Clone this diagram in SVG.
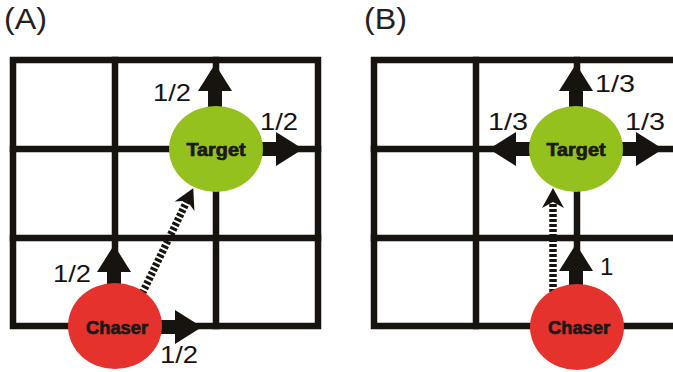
<svg xmlns="http://www.w3.org/2000/svg" width="673" height="372" viewBox="0 0 673 372">
  <style>
    .grid { fill: none; stroke: #17130e; stroke-width: 6.5; stroke-linecap: square; }
    .move { stroke: #17130e; stroke-width: 14; marker-end: url(#head); }
    .chase { fill: none; stroke: #17130e; stroke-width: 7.5; stroke-dasharray: 3 2; marker-end: url(#stealth); }
    .prob { font-family: "Liberation Sans", Arial, sans-serif; font-size: 24px; fill: #17130e; }
    .panel { font-family: "Liberation Sans", Arial, sans-serif; font-size: 29px; fill: #231f20; }
    .name { font-family: "Liberation Sans", Arial, sans-serif; font-size: 18px; font-weight: bold; fill: #1c1a17; stroke: #1c1a17; stroke-width: 0.7; text-anchor: middle; }
    .target { fill: #95c11f; }
    .chaser { fill: #e5322d; }
  </style>
  <defs>
    <marker id="head" markerUnits="userSpaceOnUse" markerWidth="28" markerHeight="34" refX="0" refY="17" orient="auto" overflow="visible">
      <path d="M0,0 L27,17 L0,34 Z" fill="#17130e"/>
    </marker>
    <marker id="stealth" markerUnits="userSpaceOnUse" markerWidth="21" markerHeight="24" refX="8" refY="11" orient="auto" overflow="visible">
      <path d="M0,0 L20,11 L0,22 L6,11 Z" fill="#17130e"/>
    </marker>
  </defs>

  <rect width="673" height="372" fill="#ffffff"/>

  <!-- panel titles -->
  <text class="panel" x="4" y="29" textLength="43" lengthAdjust="spacingAndGlyphs">(A)</text>
  <text class="panel" x="364" y="29" textLength="43" lengthAdjust="spacingAndGlyphs">(B)</text>

  <!-- lattice A -->
  <g id="grid-a" class="grid">
    <rect x="13" y="60" width="305" height="266"/>
    <path d="M115,60 V326 M216,60 V326 M13,149 H318 M13,238 H318"/>
  </g>

  <!-- lattice B (runs past the right edge) -->
  <g id="grid-b" class="grid">
    <path d="M690,60 H374 V326 H690"/>
    <path d="M476,60 V326 M577,60 V326 M374,149 H690 M374,238 H690"/>
  </g>

  <g id="connectors">
    <!-- A: target moves -->
    <line class="move" x1="215" y1="112" x2="215" y2="91"/>
    <line class="move" x1="258" y1="149" x2="276" y2="149"/>
    <!-- A: chaser moves -->
    <line class="move" x1="114" y1="290" x2="114" y2="272"/>
    <line class="move" x1="158" y1="327" x2="175" y2="327"/>
    <!-- A: pursuit direction -->
    <line class="chase" x1="138" y1="302" x2="188" y2="199"/>

    <!-- B: target moves -->
    <line class="move" x1="576" y1="112" x2="576" y2="91"/>
    <line class="move" x1="535" y1="149" x2="516" y2="149"/>
    <line class="move" x1="618" y1="149" x2="636" y2="149"/>
    <!-- B: chaser move -->
    <line class="move" x1="576" y1="292" x2="576" y2="271"/>
    <!-- B: pursuit direction -->
    <line class="chase" x1="553" y1="292" x2="553" y2="200"/>

    <!-- transition probabilities -->
    <text class="prob" x="153" y="101" textLength="38" lengthAdjust="spacingAndGlyphs">1/2</text>
    <text class="prob" x="260" y="130" textLength="38" lengthAdjust="spacingAndGlyphs">1/2</text>
    <text class="prob" x="53" y="282" textLength="38" lengthAdjust="spacingAndGlyphs">1/2</text>
    <text class="prob" x="160" y="363" textLength="38" lengthAdjust="spacingAndGlyphs">1/2</text>
    <text class="prob" x="595" y="92" textLength="40" lengthAdjust="spacingAndGlyphs">1/3</text>
    <text class="prob" x="488" y="130" textLength="40" lengthAdjust="spacingAndGlyphs">1/3</text>
    <text class="prob" x="625" y="130" textLength="40" lengthAdjust="spacingAndGlyphs">1/3</text>
    <text class="prob" x="600" y="275">1</text>
  </g>

  <g id="target-a">
    <ellipse class="target" cx="216" cy="149" rx="47" ry="43"/>
    <text class="name" x="216" y="156" textLength="59" lengthAdjust="spacingAndGlyphs">Target</text>
  </g>
  <g id="chaser-a">
    <ellipse class="chaser" cx="115" cy="326" rx="47" ry="43"/>
    <text class="name" x="117" y="334" textLength="62" lengthAdjust="spacingAndGlyphs">Chaser</text>
  </g>
  <g id="target-b">
    <ellipse class="target" cx="576" cy="149" rx="47" ry="43"/>
    <text class="name" x="576" y="156" textLength="59" lengthAdjust="spacingAndGlyphs">Target</text>
  </g>
  <g id="chaser-b">
    <ellipse class="chaser" cx="577" cy="327" rx="47" ry="43"/>
    <text class="name" x="579" y="334" textLength="62" lengthAdjust="spacingAndGlyphs">Chaser</text>
  </g>
</svg>
